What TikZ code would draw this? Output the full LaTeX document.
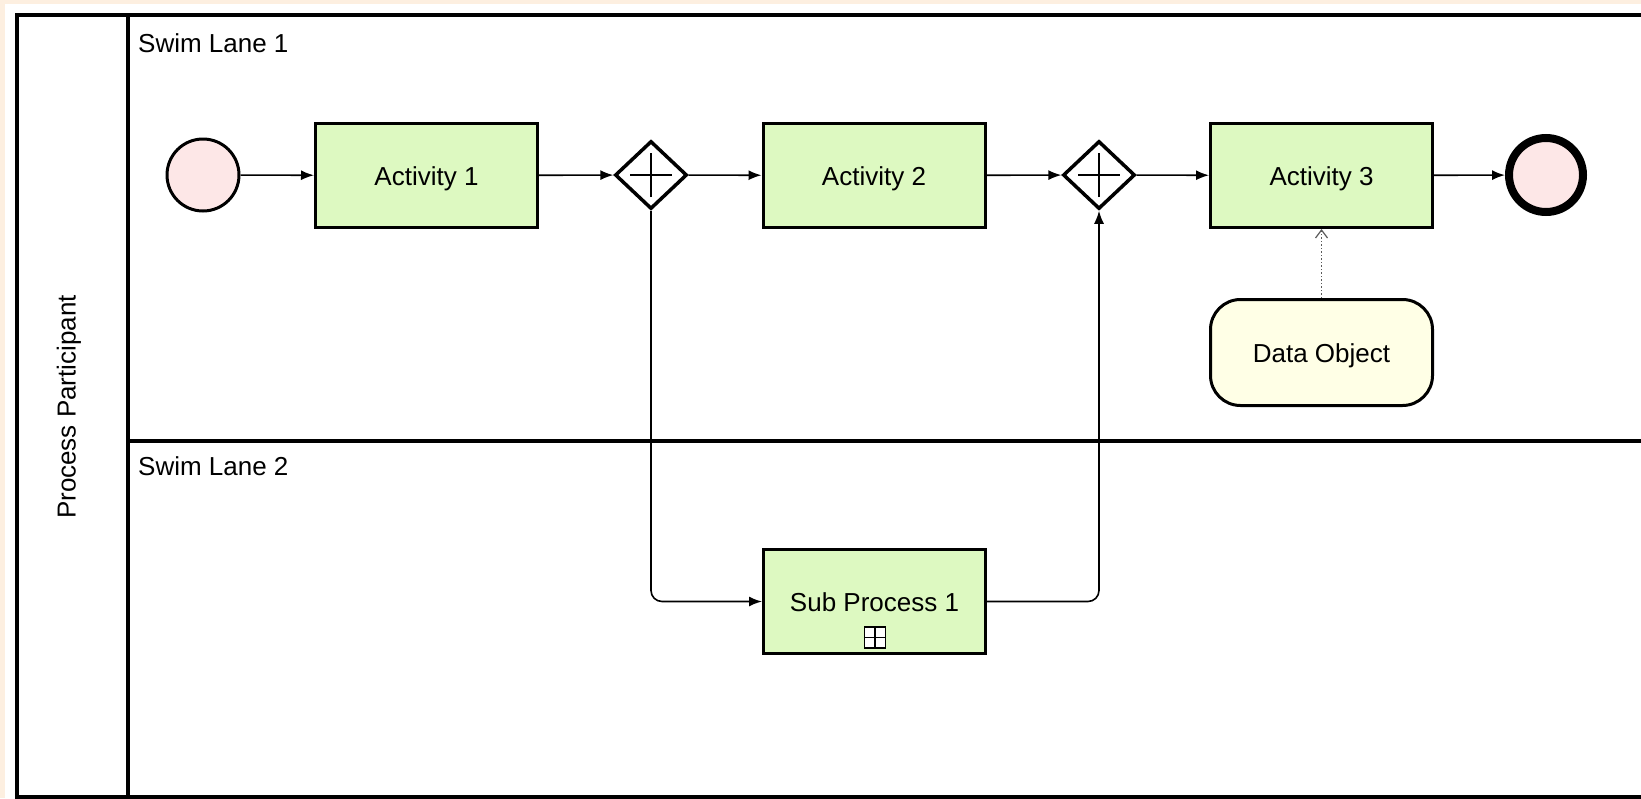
\documentclass[tikz,border=0pt]{standalone}
\usepackage{fontspec}
\setmainfont{Liberation Sans}
\usetikzlibrary{shapes.geometric,arrows.meta}
\definecolor{pagebg}{RGB}{253,239,224}
\definecolor{taskfill}{RGB}{221,249,193}
\definecolor{eventfill}{RGB}{253,231,231}
\definecolor{datafill}{RGB}{255,255,230}
\definecolor{assocgray}{RGB}{90,90,90}
\tikzset{
  lbl/.style={font=\fontsize{26}{30}\selectfont, inner sep=0pt},
  centred/.style={lbl, text height=19pt, text depth=0pt},
  task/.style={centred, draw, line width=3pt, fill=taskfill,
    minimum width=222pt, minimum height=104pt},
  startev/.style={circle, draw, line width=3pt, fill=eventfill,
    minimum size=72pt, inner sep=0pt},
  endev/.style={circle, draw, line width=8pt, fill=eventfill,
    minimum size=74pt, inner sep=0pt},
  gate/.style={diamond, draw, line width=3.5pt, fill=white,
    minimum width=72pt, minimum height=68pt, inner sep=0pt},
  dataobj/.style={centred, draw, line width=3pt, fill=datafill,
    rounded corners=30pt, minimum width=222pt, minimum height=106pt},
  subicon/.style={draw, line width=1.5pt, fill=white,
    minimum size=21pt, inner sep=0pt},
  flow/.style={line width=1.6pt, -{Latex[length=13pt,width=10pt]}},
  assoc/.style={line width=1.5pt, dotted, assocgray,
    -{Straight Barb[length=8pt,width=12pt,line width=1.2pt]}},
  lanerule/.style={line width=4pt},
  plusbar/.style={line width=1.6pt},
}
\begin{document}
\begin{tikzpicture}[x=1pt,y=-1pt]
\useasboundingbox (0,0) rectangle (1641,798);
\fill[pagebg] (0,0) rectangle (1641,798);
\fill[white] (5,4) rectangle (1641,798);

% pool outline, participant header and lane divider
\begin{scope}
  \clip (0,0) rectangle (1641,798);
  \draw[lanerule] (1660,15) -- (17,15) -- (17,797) -- (1660,797);
  \draw[lanerule] (127.5,15) -- (127.5,797);
  \draw[lanerule] (127.5,441) -- (1660,441);
\end{scope}

% pool and lane titles
\node[centred, rotate=90] (pool) at (66,407) {Process Participant};
\node[lbl, anchor=base west] (lane1) at (138,52) {Swim Lane 1};
\node[lbl, anchor=base west] (lane2) at (138,475) {Swim Lane 2};

% main flow in lane 1
\node[startev] (start) at (203,175) {};
\node[task] (a1) at (426.5,175.5) {Activity 1};
\node[gate] (g1) at (651,175) {};
\node[task] (a2) at (874,175.5) {Activity 2};
\node[gate] (g2) at (1099,175) {};
\node[task] (a3) at (1321.5,175.5) {Activity 3};
\node[endev] (end) at (1546,175) {};
\node[dataobj] (data) at (1321.5,352.5) {Data Object};

% sub-process in lane 2
\node[task] (sp) at (874.5,601.5) {Sub Process 1};
\node[subicon] (spicon) at (875,637.5) {};
\draw[line width=1.5pt] (spicon.north) -- (spicon.south)
                        (spicon.west) -- (spicon.east);

% parallel gateway markers
\foreach \g in {g1,g2}{
  \draw[plusbar] ([xshift=-21pt]\g.center) -- ([xshift=21pt]\g.center);
  \draw[plusbar] ([yshift=-22pt]\g.center) -- ([yshift=22pt]\g.center);
}

% sequence flows
\draw[flow] (start) -- (a1);
\draw[flow] (a1) -- (g1);
\draw[flow] (g1) -- (a2);
\draw[flow] (a2) -- (g2);
\draw[flow] (g2) -- (a3);
\draw[flow] (a3) -- (end);
\draw[flow, rounded corners=11pt] (g1.south) |- (sp.west);
\draw[flow, rounded corners=11pt] (sp.east) -| (g2.south);

% association
\draw[assoc] (data.north) -- (a3.south);
\end{tikzpicture}
\end{document}
